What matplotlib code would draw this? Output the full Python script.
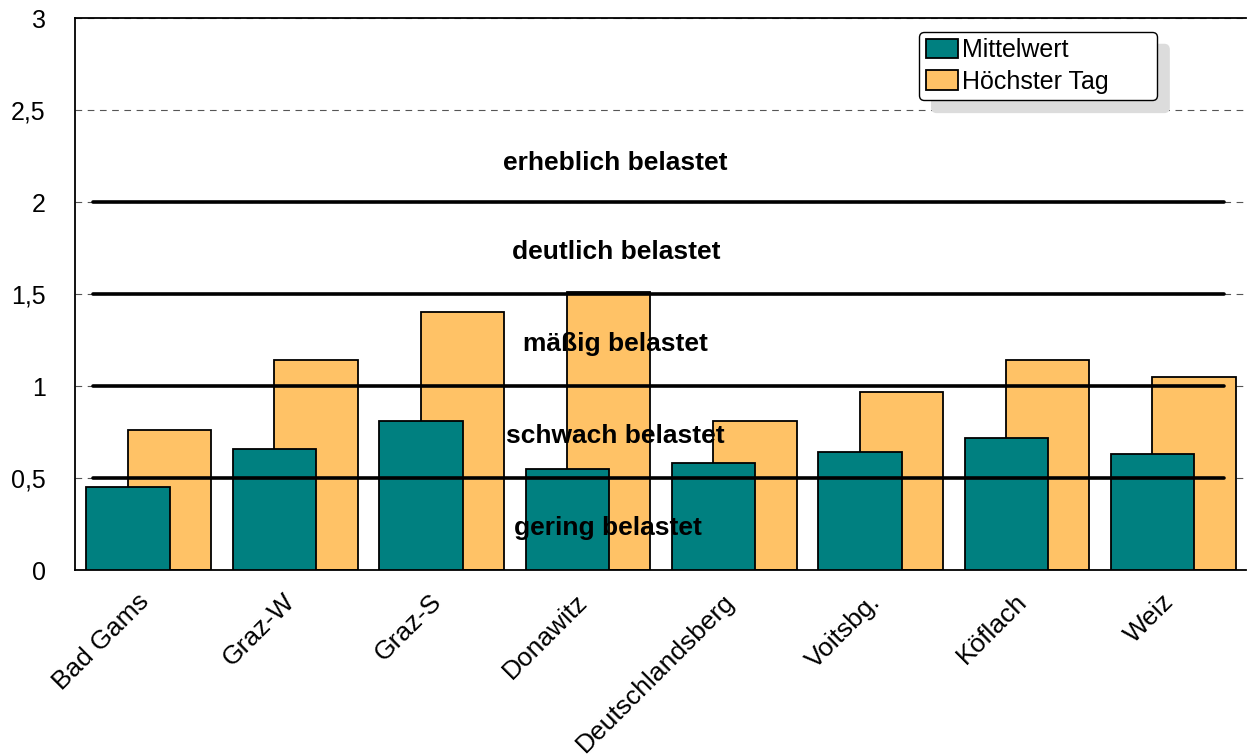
import numpy as np
import matplotlib
matplotlib.use("Agg")
import matplotlib.pyplot as plt

plt.rcParams["font.family"] = ["Liberation Sans", "DejaVu Sans"]

stations = ["Bad Gams", "Graz-W", "Graz-S", "Donawitz", "Deutschlandsberg",
            "Voitsbg.", "Köflach", "Weiz"]
mittelwert = [0.45, 0.66, 0.81, 0.55, 0.58, 0.64, 0.72, 0.63]
hoechster_tag = [0.76, 1.14, 1.40, 1.51, 0.81, 0.97, 1.14, 1.05]

limits = [0.5, 1.0, 1.5, 2.0]
zone_labels = ["gering belastet", "schwach belastet", "mäßig belastet",
               "deutlich belastet", "erheblich belastet"]
zone_y = [0.23, 0.73, 1.23, 1.73, 2.21]
zone_x = [3.64, 3.69, 3.69, 3.70, 3.69]

teal = "#008080"
orange = "#FFC266"

fig = plt.figure(figsize=(12.56, 7.56), dpi=100)
ax = fig.add_axes([0.0597, 0.246, 0.9323, 0.730])

x = np.arange(len(stations))
w = 0.57
# orange first so the teal bars sit on top
ax.bar(x + 0.361, hoechster_tag, width=w, align="edge", color=orange,
       edgecolor="black", linewidth=1.3, label="Höchster Tag", zorder=2)
ax.bar(x + 0.078, mittelwert, width=w, align="edge", color=teal,
       edgecolor="black", linewidth=1.3, label="Mittelwert", zorder=3)

for lim in limits:
    ax.plot([0.12, 7.85], [lim, lim], color="black", lw=2.6, zorder=4,
            solid_capstyle="round")

for txt, xx, yy in zip(zone_labels, zone_x, zone_y):
    ax.text(xx, yy, txt, ha="center", va="center", fontsize=19,
            fontweight="bold", zorder=5)

ax.set_xlim(0, 8)
ax.set_ylim(0, 3)
ax.set_yticks([0, 0.5, 1, 1.5, 2, 2.5, 3])
ax.set_yticklabels(["0", "0,5", "1", "1,5", "2", "2,5", "3"], fontsize=18)
ax.yaxis.grid(True, linestyle=(0, (6, 5)), color="#555555", lw=0.8, zorder=0)
ax.set_axisbelow(True)
ax.tick_params(axis="y", length=0, pad=21)
ax.tick_params(axis="x", length=0, pad=14)
ax.set_xticks(x + 0.42)
ax.set_xticklabels(stations, rotation=45, ha="right", rotation_mode="anchor",
                   fontsize=19)
ax.spines["right"].set_visible(False)
for s in ["left", "bottom", "top"]:
    ax.spines[s].set_linewidth(1.3)

handles, labels = ax.get_legend_handles_labels()
labels = [lab + "\u00a0" * 6 for lab in labels]
leg = ax.legend(handles[::-1], labels[::-1], loc="upper left",
                bbox_to_anchor=(0.721, 0.975), fontsize=18, frameon=True,
                fancybox=True,
                shadow={"color": "#dcdcdc", "alpha": 1, "ox": 9, "oy": -9},
                handlelength=1.3, handleheight=0.8, handletextpad=0.15,
                borderpad=0.25, labelspacing=0.3, borderaxespad=0)
leg.get_frame().set_edgecolor("black")
leg.get_frame().set_linewidth(1.0)
leg.set_zorder(6)

fig.savefig("out.png", dpi=100)
